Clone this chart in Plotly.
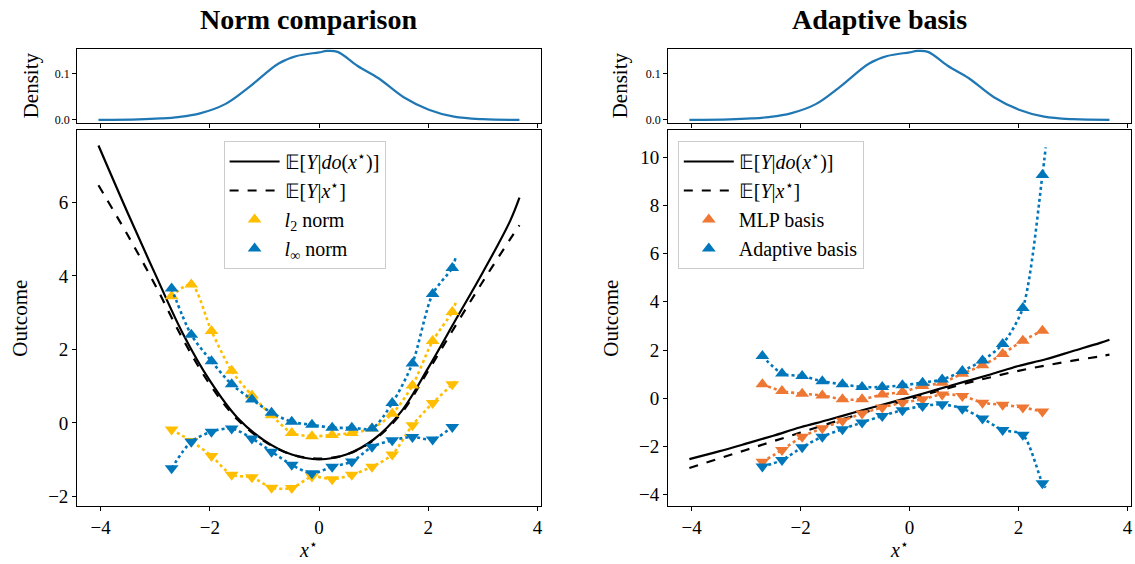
import plotly.graph_objects as go

# ---------------- data ----------------
# marker x positions (shared by both panels)
xs = [-2.70, -2.34, -1.97, -1.60, -1.23, -0.87, -0.50, -0.13, 0.24, 0.60, 0.97, 1.34, 1.71, 2.08, 2.44]
x_end = 2.50  # dotted bound curves end slightly past the last marker

# left panel: norm comparison
l2_up = [3.45, 3.77, 2.50, 1.42, 0.75, 0.21, -0.27, -0.36, -0.33, -0.27, -0.15, 0.25, 1.02, 2.23, 3.02]
l2_up_end = 3.27
l2_dn = [-0.18, -0.49, -0.90, -1.41, -1.48, -1.76, -1.77, -1.46, -1.53, -1.41, -1.19, -0.86, -0.06, 0.54, 1.05]
l2_dn_end = 1.15
linf_up = [3.66, 2.40, 1.68, 1.05, 0.64, 0.28, 0.03, -0.05, -0.13, -0.13, -0.15, 0.54, 1.62, 3.51, 4.22]
linf_up_end = 4.50
linf_dn = [-1.23, -0.51, -0.24, -0.15, -0.42, -0.78, -1.14, -1.37, -1.19, -1.05, -0.65, -0.47, -0.38, -0.45, -0.11]
linf_dn_end = -0.05

# right panel: adaptive basis
mlp_up = [0.58, 0.30, 0.19, 0.12, -0.04, -0.04, 0.16, 0.26, 0.51, 0.65, 1.02, 1.37, 1.84, 2.39, 2.80]
mlp_up_end = 2.85
mlp_dn = [-2.63, -2.14, -1.59, -1.24, -0.93, -0.63, -0.38, -0.18, -0.04, 0.16, 0.10, -0.18, -0.27, -0.38, -0.55]
mlp_dn_end = -0.58
ada_up = [1.75, 1.03, 0.92, 0.71, 0.58, 0.47, 0.47, 0.54, 0.65, 0.78, 1.13, 1.57, 2.25, 3.74, 9.26]
ada_up_end = 10.40
ada_dn = [-2.83, -2.56, -2.03, -1.59, -1.28, -1.00, -0.73, -0.49, -0.32, -0.25, -0.43, -0.84, -1.31, -1.51, -3.52]
ada_dn_end = -3.70

# true curves
cx = [-4.04, -3.5, -3.0, -2.5, -2.0, -1.5, -1.0, -0.5, 0.0, 0.5, 1.0, 1.5, 2.0, 2.5, 3.0, 3.5, 3.67]
left_do = [7.55, 5.70, 4.05, 2.45, 1.15, 0.15, -0.48, -0.86, -0.99, -0.86, -0.45, 0.30, 1.50, 2.80, 4.10, 5.50, 6.13]
left_obs = [6.47, 5.10, 3.75, 2.30, 1.05, 0.10, -0.50, -0.86, -0.97, -0.86, -0.47, 0.25, 1.42, 2.65, 3.85, 5.00, 5.38]
right_do = [-2.52, -2.20, -1.88, -1.55, -1.20, -0.90, -0.58, -0.27, 0.04, 0.36, 0.68, 1.00, 1.34, 1.62, 1.96, 2.30, 2.43]
right_obs = [-2.89, -2.50, -2.14, -1.78, -1.42, -1.06, -0.71, -0.36, -0.03, 0.29, 0.60, 0.88, 1.14, 1.36, 1.56, 1.74, 1.81]

# density of x*
dx = [-4.04, -3.3, -2.9, -2.58, -2.18, -1.72, -1.27, -0.74, -0.41, 0.0, 0.14, 0.34, 0.70, 1.09, 1.55, 2.01, 2.47, 3.0, 3.67]
dy = [0.0, 0.001, 0.003, 0.006, 0.014, 0.034, 0.072, 0.122, 0.138, 0.146, 0.149, 0.147, 0.117, 0.090, 0.049, 0.022, 0.007, 0.0014, 0.0]

# ---------------- style ----------------
YEL = "#FFBE00"
BLU = "#0077BB"
ORA = "#EE7733"
KDE = "#1f77b4"
FONT = "Liberation Serif"
W, H = 1135, 564

def px(v):
    return v / W

def py(v):
    return 1 - v / H

fig = go.Figure()

DO_NAME = "𝔼[<i>Y</i>|<i>do</i>(<i>x</i><sup>⋆</sup>)]"
OBS_NAME = "𝔼[<i>Y</i>|<i>x</i><sup>⋆</sup>]"

def add_panel(xa, ya, dxa, dya, leg, do_vals, obs_vals, series):
    fig.add_trace(go.Scatter(x=dx, y=dy, mode="lines", line=dict(color=KDE, width=2.2, shape="spline"),
                             xaxis=dxa, yaxis=dya, showlegend=False, hoverinfo="skip"))
    fig.add_trace(go.Scatter(x=cx, y=do_vals, mode="lines", line=dict(color="black", width=2.2, shape="spline"),
                             name=DO_NAME, xaxis=xa, yaxis=ya, legend=leg))
    fig.add_trace(go.Scatter(x=cx, y=obs_vals, mode="lines",
                             line=dict(color="black", width=2.2, dash="dash", shape="spline"),
                             name=OBS_NAME, xaxis=xa, yaxis=ya, legend=leg))
    for k, (name, col, up, up_end, dn, dn_end) in enumerate(series):
        for vals, end in ((up, up_end), (dn, dn_end)):
            fig.add_trace(go.Scatter(x=xs + [x_end], y=vals + [end], mode="lines",
                                     line=dict(color=col, width=2.6, dash="dot", shape="spline", smoothing=0.8),
                                     xaxis=xa, yaxis=ya, showlegend=False, hoverinfo="skip"))
        fig.add_trace(go.Scatter(x=xs, y=up, mode="markers",
                                 marker=dict(symbol="triangle-up", size=12, color=col),
                                 name=name, xaxis=xa, yaxis=ya, legend=leg))
        fig.add_trace(go.Scatter(x=xs, y=dn, mode="markers",
                                 marker=dict(symbol="triangle-down", size=12, color=col),
                                 xaxis=xa, yaxis=ya, showlegend=False))

add_panel("x", "y", "x2", "y2", "legend", left_do, left_obs,
          [("<i>l</i><sub>2</sub> norm", YEL, l2_up, l2_up_end, l2_dn, l2_dn_end),
           ("<i>l</i><sub>∞</sub> norm", BLU, linf_up, linf_up_end, linf_dn, linf_dn_end)])
add_panel("x3", "y3", "x4", "y4", "legend2", right_do, right_obs,
          [("MLP basis", ORA, mlp_up, mlp_up_end, mlp_dn, mlp_dn_end),
           ("Adaptive basis", BLU, ada_up, ada_up_end, ada_dn, ada_dn_end)])

XR = [-4.43, 4.06]
main_top, main_bot = py(131), py(510)
den_top, den_bot = py(49), py(124.3)
L = [px(77.3), px(541.7)]
R = [px(669.3), px(1132.7)]

def axis_common(**kw):
    d = dict(showgrid=False, zeroline=False, showline=True, linecolor="black", linewidth=1,
             mirror=True, ticks="outside", ticklen=4, tickcolor="black",
             tickfont=dict(family=FONT, size=19, color="black"))
    d.update(kw)
    return d

LEG = dict(yanchor="top", xanchor="left", bgcolor="white", bordercolor="#cccccc", borderwidth=1,
           font=dict(family=FONT, size=20, color="black"), itemwidth=50, tracegroupgap=0)

lay = dict(
    width=W, height=H, margin=dict(l=0, r=0, t=0, b=0),
    paper_bgcolor="white", plot_bgcolor="white",
    font=dict(family=FONT, color="black"),
    xaxis=axis_common(domain=L, anchor="y", range=XR, tickvals=[-4, -2, 0, 2, 4]),
    yaxis=axis_common(domain=[main_bot, main_top], anchor="x", range=[-2.27, 7.97], tickvals=[-2, 0, 2, 4, 6]),
    xaxis2=axis_common(domain=L, anchor="y2", range=XR, tickvals=[-4, -2, 0, 2, 4], showticklabels=False),
    yaxis2=axis_common(domain=[den_bot, den_top], anchor="x2", range=[-0.0077, 0.154], tickvals=[0.0, 0.1],
                       tickformat=".1f", tickfont=dict(family=FONT, size=12, color="black")),
    xaxis3=axis_common(domain=R, anchor="y3", range=XR, tickvals=[-4, -2, 0, 2, 4]),
    yaxis3=axis_common(domain=[main_bot, main_top], anchor="x3", range=[-4.48, 11.12],
                       tickvals=[-4, -2, 0, 2, 4, 6, 8, 10]),
    xaxis4=axis_common(domain=R, anchor="y4", range=XR, tickvals=[-4, -2, 0, 2, 4], showticklabels=False),
    yaxis4=axis_common(domain=[den_bot, den_top], anchor="x4", range=[-0.0077, 0.154], tickvals=[0.0, 0.1],
                       tickformat=".1f", tickfont=dict(family=FONT, size=12, color="black")),
    legend=dict(LEG, x=px(224), y=py(142)),
    legend2=dict(LEG, x=px(679), y=py(142)),
    showlegend=True,
)
fig.update_layout(**lay)

ann = []
def A(text, x, y, size, angle=0, bold=False):
    ann.append(dict(text=("<b>%s</b>" % text) if bold else text, x=px(x), y=py(y), xref="paper", yref="paper",
                    showarrow=False, textangle=angle, xanchor="center", yanchor="middle",
                    font=dict(family=FONT, size=size, color="black")))

A("Norm comparison", 309, 20, 28, bold=True)
A("Adaptive basis", 881, 20, 28, bold=True)
A("Outcome", 20, 320, 21, angle=-90)
A("Outcome", 612, 320, 21, angle=-90)
A("Density", 31, 86, 21, angle=-90)
A("Density", 621, 86, 21, angle=-90)
A("<i>x</i><sup>⋆</sup>", 309, 553, 20)
A("<i>x</i><sup>⋆</sup>", 901, 553, 20)
fig.update_layout(annotations=ann)

fig.write_html("out.html", config={"displayModeBar": False},
               post_script="document.body.style.margin='0';document.body.style.overflow='hidden';")
